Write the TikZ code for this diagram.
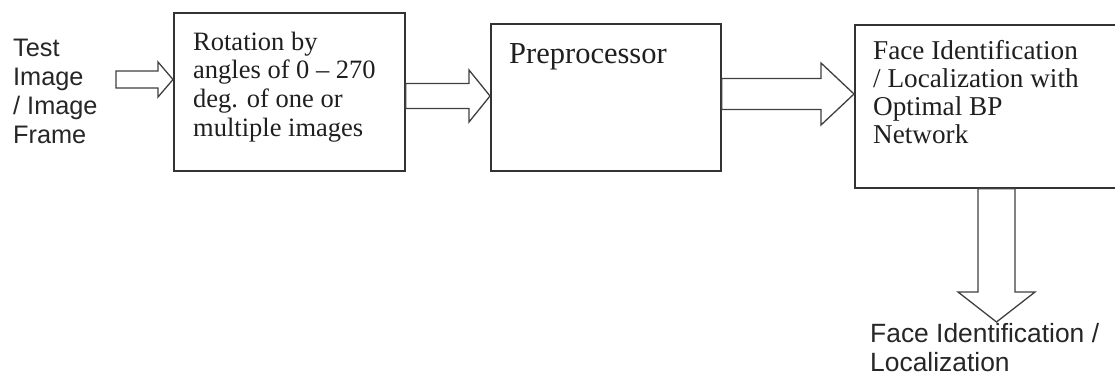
\documentclass[tikz,border=0pt]{standalone}
\usepackage{fontspec}
\setmainfont{Liberation Serif}
\newfontfamily\arialf{Liberation Sans}
\usetikzlibrary{calc}

% horizontal block arrow: start centre, tip, half shaft, half head, head length
\newcommand\harrow[5]{%
  \draw[blockarrow] ($(#1)+(0,#3)$) -- ($(#2)+(-#5,#3)$) -- ($(#2)+(-#5,#4)$) -- (#2)
    -- ($(#2)+(-#5,-#4)$) -- ($(#2)+(-#5,-#3)$) -- ($(#1)+(0,-#3)$) -- cycle;}
% downward block arrow: start centre, tip, half shaft, half head, head length
\newcommand\varrow[5]{%
  \draw[blockarrow] ($(#1)+(#3,0)$) -- ($(#2)+(#3,-#5)$) -- ($(#2)+(#4,-#5)$) -- (#2)
    -- ($(#2)+(-#4,-#5)$) -- ($(#2)+(-#3,-#5)$) -- ($(#1)+(-#3,0)$) -- cycle;}

\begin{document}
\begin{tikzpicture}[x=1pt,y=-1pt,
  box/.style={draw=black!80, line width=1.6pt, fill=white, inner sep=0pt, anchor=north west},
  blockarrow/.style={draw=black!75, line width=1.3pt, fill=white, line join=miter},
  serif/.style={inner sep=0pt, anchor=base west, align=left, text=black!88,
                font=\fontsize{26.5}{28.7}\selectfont},
  sans/.style={inner sep=0pt, anchor=base west, align=left, text=black!85,
               font=\arialf\fontsize{25.3}{29}\selectfont}]
\useasboundingbox (0,0) rectangle (1115,378);
\clip (0,0) rectangle (1115,378);
\fill[white] (0,0) rectangle (1115,378);

% processing blocks
\node[box, minimum width=231pt, minimum height=158pt] (r1) at (173,12) {};
\node[box, minimum width=230pt, minimum height=147pt] (r2) at (490,23) {};
\node[box, minimum width=270pt, minimum height=163pt] (r3) at (854,24) {};

% input and output labels (placed by the baseline of their last line)
\node[sans] (src) at (13,143.7) {Test\\Image\\/ Image\\Frame};
\node[sans, font=\arialf\fontsize{26.4}{29}\selectfont] (out) at (870,371) {Face Identification /\\Localization};

% block texts
\node[serif] (t1) at (193,136.1) {Rotation by\\angles of 0 -- 270\\deg. of one or\\multiple images};
\node[serif, font=\fontsize{30.5}{32}\selectfont] (t2) at (509,63) {Preprocessor};
\node[serif, font=\fontsize{27.2}{28.3}\selectfont] (t3) at (873,143.9) {Face Identification\\/ Localization with\\Optimal BP\\Network};

% arrow anchor points
\coordinate (a1s) at (116,79.5);
\coordinate (a1t) at (r1.west |- a1s);
\coordinate (a2s) at (r1.east |- 0,96);
\coordinate (a2t) at (r2.west |- a2s);
\coordinate (a3s) at (r2.east |- 0,94);
\coordinate (a3t) at (r3.west |- a3s);
\coordinate (a4s) at (r3.south -| 996.5,0);
\coordinate (a4t) at (996.5,322);

% connectors
\harrow{a1s}{a1t}{8.5}{17.5}{15}
\harrow{a2s}{a2t}{12.5}{26}{21}
\harrow{a3s}{a3t}{15.5}{31}{33}
\varrow{a4s}{a4t}{18.5}{38.5}{30}
\end{tikzpicture}
\end{document}
